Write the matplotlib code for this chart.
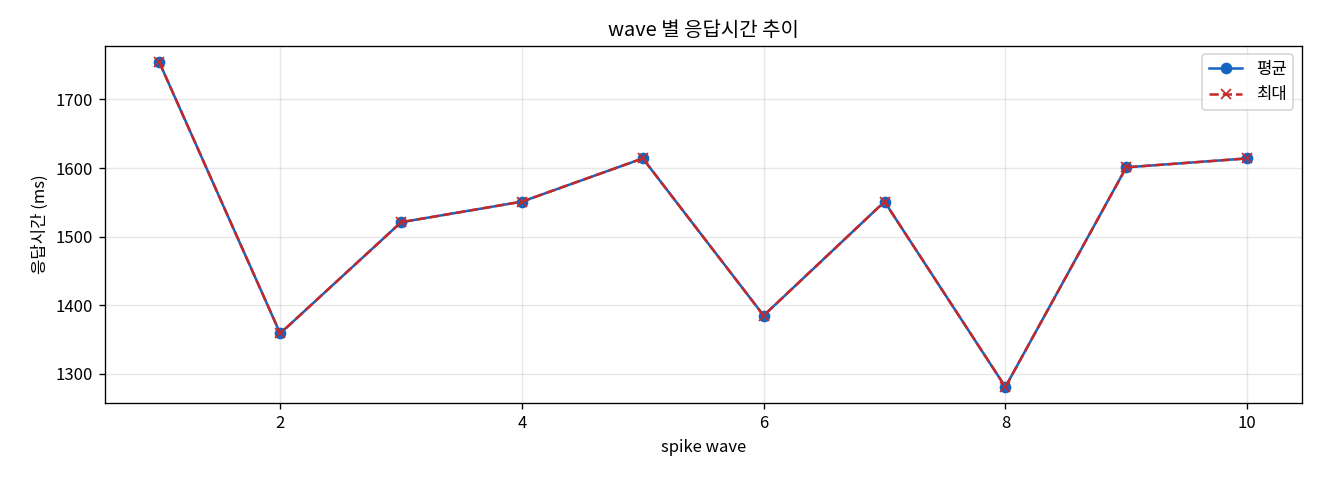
import matplotlib
matplotlib.use("Agg")
import matplotlib.pyplot as plt

plt.rcParams['font.family'] = ['Noto Sans CJK KR', 'DejaVu Sans']
plt.rcParams['axes.unicode_minus'] = False

waves = [1, 2, 3, 4, 5, 6, 7, 8, 9, 10]
avg_ms = [1754, 1359, 1521, 1551, 1614, 1385, 1551, 1281, 1601, 1614]
max_ms = [1754, 1359, 1521, 1551, 1614, 1385, 1551, 1281, 1601, 1614]

fig, ax = plt.subplots(figsize=(11, 4), dpi=120)
ax.plot(waves, avg_ms, marker='o', linestyle='-', color='#1565C0', label='평균')
ax.plot(waves, max_ms, marker='x', linestyle='--', color='#C62828', label='최대')
ax.set_title('wave 별 응답시간 추이')
ax.set_xlabel('spike wave')
ax.set_ylabel('응답시간 (ms)')
ax.grid(True, alpha=0.3)
ax.legend(loc='upper right')
fig.subplots_adjust(left=0.0795, right=0.986, top=0.904, bottom=0.160)
fig.savefig('out.png', dpi=120)
